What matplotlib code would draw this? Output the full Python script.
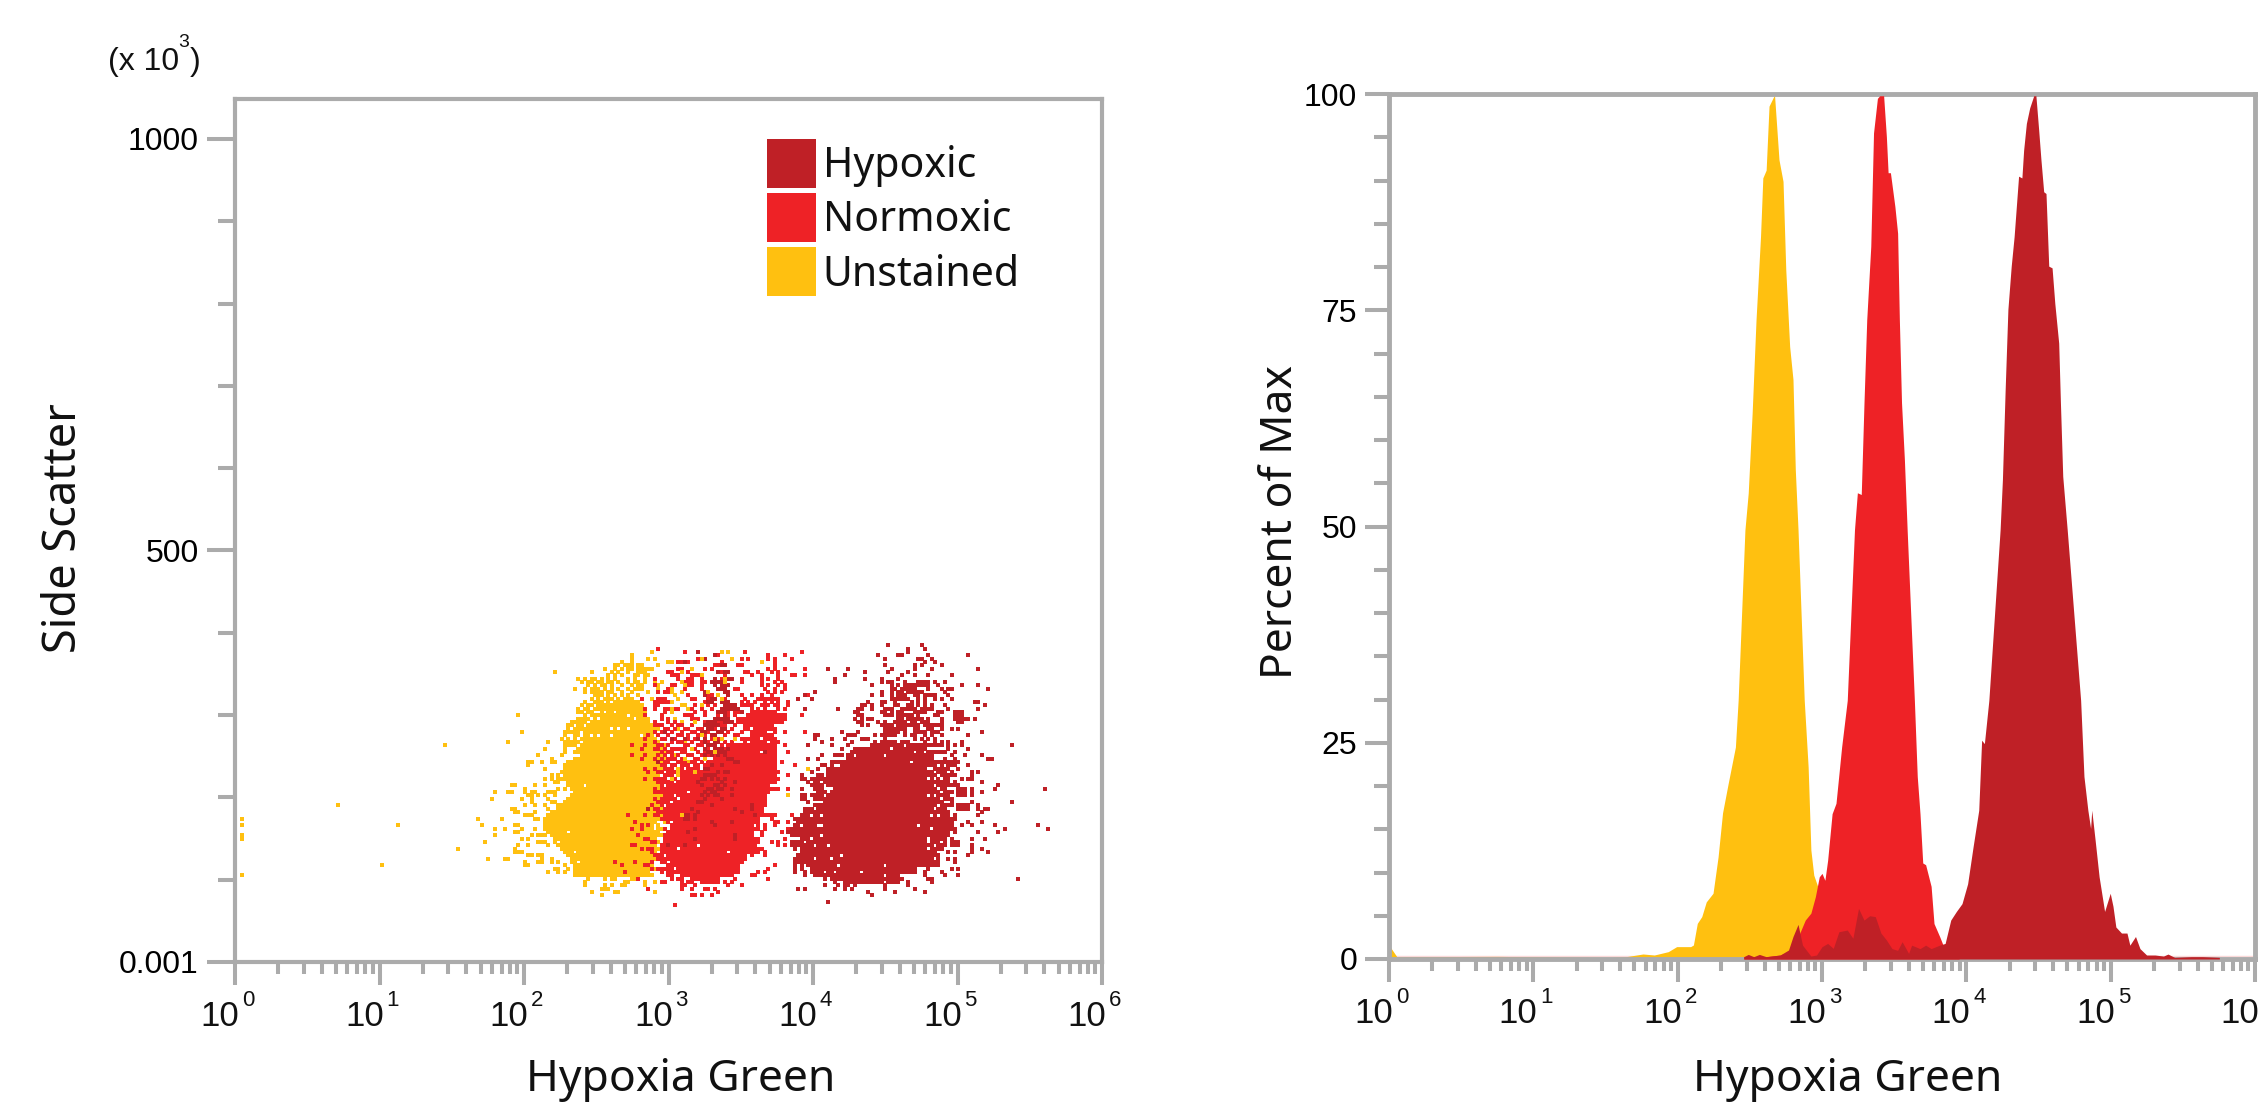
import numpy as np
import matplotlib
matplotlib.use("Agg")
import matplotlib.pyplot as plt
from matplotlib.patches import Patch
from matplotlib.ticker import LogLocator, NullFormatter, FixedLocator

W, H = 2258, 1105
GREY = "#ABABAB"
YELLOW = "#FFC010"
RED = "#EE2226"
DARK = "#BF2026"
TICK_FONT = ["Liberation Sans Narrow", "Liberation Sans"]
TITLE_FONT = "Noto Sans"

# histogram outlines, log10(intensity) and percent of max
unstained_exp = [0.0, 0.054, 0.75, 1.527, 1.644, 1.76, 1.838, 1.935, 1.993, 2.09, 2.109, 2.136, 2.167, 2.198, 2.245, 2.28,
                 2.311, 2.35, 2.4, 2.419, 2.466, 2.489, 2.516, 2.543, 2.574, 2.59, 2.613, 2.633, 2.671, 2.683, 2.702,
                 2.73, 2.749, 2.776, 2.799, 2.815, 2.834, 2.877, 2.904, 2.923, 2.943, 2.97, 3.0, 3.08, 3.195]
unstained_pct = [1.6, 0.27, 0.3, 0.19, 0.27, 0.58, 0.46, 0.85, 1.43, 1.43, 1.62, 4.12, 4.9, 6.6, 7.6, 11.8,
                 16.9, 20.3, 24.5, 29.9, 49.6, 53.9, 63.1, 73.9, 83.5, 90.3, 91.2, 98.6, 99.9, 97, 92.4,
                 89.9, 79.7, 70.8, 67, 56.6, 49.6, 29.9, 22.2, 12.6, 9.7, 8.4, 5.3, 1.4, 0.27]
normoxic_exp = [2.458, 2.613, 2.71, 2.768, 2.826, 2.884, 2.923, 2.954, 2.981, 3.0, 3.02, 3.039, 3.07, 3.097, 3.136, 3.175,
                3.225, 3.245, 3.272, 3.291, 3.31, 3.338, 3.357, 3.384, 3.4, 3.427, 3.446, 3.458, 3.474, 3.505, 3.524,
                3.536, 3.551, 3.571, 3.59, 3.64, 3.66, 3.679, 3.698, 3.718, 3.756, 3.776, 3.815, 3.834, 3.873, 3.95]
normoxic_pct = [0.27, 0.27, 0.46, 0.84, 2.2, 4.5, 5.3, 7.2, 9.5, 9.9, 9.1, 11.4, 16.8, 18, 24.5, 29.9,
                49.6, 53.9, 53.7, 64.3, 73.9, 82.4, 95.5, 99.5, 99.8, 99.8, 95.1, 90.9, 90.9, 87, 83.9,
                73.9, 64.3, 57.7, 49.6, 29.9, 21.1, 16.8, 11.1, 10.9, 8.4, 4.1, 2.6, 1.8, 0.27, 0.1]
hypoxic_exp = [2.458, 2.489, 2.527, 2.566, 2.613, 2.71, 2.768, 2.799, 2.834, 2.865, 2.923, 2.962, 3.0, 3.039, 3.078, 3.117,
               3.175, 3.214, 3.253, 3.291, 3.33, 3.369, 3.408, 3.446, 3.485, 3.524, 3.555, 3.6, 3.621, 3.679, 3.718,
               3.756, 3.815, 3.853, 3.892, 3.931, 3.97, 4.009, 4.047, 4.086, 4.106, 4.125, 4.156, 4.234, 4.25, 4.269,
               4.288, 4.311, 4.331, 4.362, 4.385, 4.397, 4.416, 4.439, 4.467, 4.482, 4.501, 4.517, 4.536, 4.552, 4.571,
               4.594, 4.613, 4.64, 4.652, 4.668, 4.699, 4.792, 4.815, 4.842, 4.861, 4.869, 4.892, 4.92, 4.958, 4.997,
               5.016, 5.036, 5.075, 5.113, 5.133, 5.172, 5.203, 5.249, 5.308, 5.366, 5.397, 5.443, 5.559, 5.637, 5.753]
hypoxic_pct = [0.27, 0.53, 0.27, 0.53, 0.27, 0.46, 1.04, 2.6, 4.0, 1.6, 0.34, 0.46, 1.42, 1.8, 1.23, 3.15,
               3.35, 2.4, 5.85, 4.5, 5, 4.9, 3, 2.2, 1.2, 1, 2, 0.65, 1.6, 1.2, 1.6,
               1.2, 1.6, 1.8, 4.5, 5.5, 6.4, 8.7, 13, 17.2, 25.3, 24.9, 29.9, 49.6, 55.4, 65.8,
               75.1, 80.1, 83.5, 90.5, 90.3, 93.5, 96.6, 98.4, 99.8, 99.8, 95.9, 92.4, 88.7, 88.5, 80.1,
               79.9, 75.8, 71.2, 64.3, 55.8, 49.6, 29.9, 21.1, 17.2, 15.1, 17.2, 13.8, 9.5, 5.5, 7.6,
               6.1, 3.7, 3, 3, 1.6, 2.6, 1.2, 0.46, 0.46, 0.34, 0.57, 0.19, 0.27, 0.27, 0.19]

# scatter plot is a binned raster: column = log10(x) bin, row = side scatter bin
BINS_PER_DECADE = 43.35
SSC_PER_BIN = 4.05

yellow_body_row = list(range(79, 25, -1))
yellow_body_start = [117, 115, 113, 113, 112, 111, 110, 107, 106, 105, 105, 105, 104, 105, 104, 103, 102, 103, 102, 100,
                     99, 99, 99, 99, 99, 100, 100, 101, 102, 101, 100, 99, 97, 97, 96, 95, 93, 93, 93, 93,
                     94, 95, 96, 96, 97, 98, 99, 100, 101, 101, 102, 102, 102, 102]
yellow_body_end = [119, 121, 122, 122, 123, 123, 124, 124, 125, 125, 125, 123, 124, 123, 125, 125, 125, 125, 125, 124,
                   125, 125, 126, 125, 126, 126, 126, 127, 127, 127, 128, 127, 127, 127, 127, 126, 125, 124, 124, 123,
                   124, 124, 124, 124, 124, 125, 125, 125, 124, 123, 123, 122, 121, 120]
yellow_hole_col = [105, 100, 97, 102, 103, 118, 114, 120, 115, 113, 118, 113, 109, 107, 122, 103, 101, 100]
yellow_hole_row = [53, 39, 36, 33, 30, 74, 75, 73, 70, 70, 70, 68, 68, 68, 68, 62, 62, 61]
yellow_cells = {
    93: [125], 92: [119], 91: [124, 126, 119], 90: [130, 116, 119], 89: [114, 115, 117, 118, 121, 122, 127, 119],
    88: [111, 114, 116, 118, 119, 121, 122, 123, 124, 125], 87: [96, 113, 115, 118, 121, 122, 123, 107],
    86: [112, 114, 116, 120, 121, 123, 124], 85: [103, 105, 112, 114, 118, 120, 123],
    84: [104, 112, 113, 115, 118, 120, 121, 123, 126, 128], 83: [113, 116, 119, 121, 122, 127],
    82: [102, 107, 108, 109, 115, 118, 120, 121, 122, 127, 131], 81: [109, 112, 113, 116, 119, 124, 131, 134],
    80: [112, 114, 116, 118, 121, 132], 79: [113, 125, 127], 78: [108, 109, 110, 112, 128, 131],
    77: [104, 110, 111, 134], 76: [103, 105, 110, 130, 136], 75: [103, 131], 74: [85, 109, 110, 111],
    73: [105, 132], 72: [102, 103, 104, 105, 126, 134], 71: [103], 70: [102, 103, 127, 133], 69: [86, 99, 100, 101],
    68: [99], 67: [98, 104, 106], 66: [94, 99, 102, 103, 135], 65: [99, 102, 128], 64: [93, 99, 103, 131],
    63: [99, 134], 62: [91, 98, 132], 61: [95, 132], 60: [88, 89, 92, 95, 96, 130, 136], 59: [88],
    58: [93, 128, 133], 57: [98], 56: [95, 97], 55: [93, 95, 97, 98, 129], 54: [96, 97], 53: [83, 90, 93],
    52: [87, 97, 99, 128, 130, 136], 51: [82, 87, 89, 90, 94, 95, 96, 134], 50: [88, 89, 91, 93, 96],
    49: [86, 89, 94, 130], 48: [89, 95, 96, 129], 47: [87, 90, 93], 46: [83, 94, 131], 45: [84, 90, 95],
    44: [87, 88, 89, 94, 129], 43: [90, 91, 127], 42: [129], 41: [84], 40: [81, 86, 90, 127, 131, 128], 39: [84],
    38: [89, 91, 92, 93, 125, 128], 37: [86, 88], 36: [91, 92, 93], 35: [85, 88, 94, 126], 34: [84],
    33: [84, 85, 86, 128], 32: [88, 89, 91, 92], 31: [81, 92, 95], 30: [87, 91, 92, 95, 97, 125], 29: [87, 88, 99],
    28: [96, 97, 100, 126], 27: [94, 97, 99, 105], 26: [107, 123, 124], 25: [106, 111, 113, 114, 119, 120],
    24: [105, 117, 118, 123, 126], 23: [105, 111, 113, 116, 117, 123], 22: [110, 111, 112], 21: [107, 114, 115, 126],
    20: [110],
}
yellow_extra = {
    85: [107, 108, 110], 84: [106, 107, 109, 110], 83: [106, 108, 110, 111], 82: [105, 111, 113], 81: [105, 107, 108, 110],
    80: [108, 109, 110], 79: [107, 109, 111, 112, 115], 78: [105, 114, 115], 77: [106, 107, 109, 112], 76: [106, 108, 109, 111, 112],
    75: [104, 106, 107, 110], 74: [105, 107, 108], 73: [103, 104, 106, 108], 72: [101], 71: [100, 101, 104], 70: [100, 104, 126, 127],
    69: [102, 103, 126, 128], 68: [102, 103, 124, 125, 127], 67: [100, 102, 125, 126, 128], 66: [100, 101, 124, 125, 127],
    65: [100, 101, 126, 127, 129], 64: [126, 128], 63: [126, 127, 129], 62: [126, 128], 61: [126, 127, 129], 60: [125, 126, 128],
    59: [126, 127], 58: [126, 127, 129], 57: [127, 128, 130], 56: [126, 127, 129], 55: [127, 128], 54: [127, 129], 53: [127, 128, 130],
    52: [128, 129], 51: [128, 130], 50: [128, 129], 49: [129, 131], 48: [128, 129], 47: [128, 130], 46: [128, 129], 45: [128],
    44: [127, 128], 43: [126, 128], 42: [125, 126], 41: [125, 127], 40: [124, 125], 39: [125, 126, 127], 38: [126, 127], 37: [125, 126],
    36: [125, 127], 35: [125], 34: [126, 127], 33: [126], 31: [125, 126], 30: [124], 29: [124, 125], 28: [123, 124], 27: [122, 123, 124],
    26: [121, 122, 125],
}
yellow_stray_col = [2, 2, 2, 2, 2, 31, 49, 44, 63, 82, 84, 78, 83, 77, 84, 85, 73, 80, 74, 85, 78, 81, 85, 78, 75, 84, 85, 67, 76, 82]
yellow_stray_row = [43, 41, 38, 37, 26, 47, 41, 29, 65, 66, 53, 51, 51, 49, 46, 45, 43, 43, 41, 41, 40, 40, 39, 38, 36, 34, 33, 34, 31, 31]
yellow_over_col = [146, 148, 140, 149, 158, 131, 137, 134, 140, 147, 147, 134, 135, 131, 142, 145, 146, 133, 140, 135, 136,
                   131, 138, 144, 146, 150, 140, 137, 144, 135, 141, 133, 133, 133, 138, 131, 166, 172, 134]
yellow_over_row = [93, 93, 91, 91, 90, 90, 88, 87, 86, 85, 84, 84, 83, 82, 81, 80, 79, 79, 77, 77, 76,
                   76, 72, 67, 67, 67, 68, 64, 63, 61, 61, 58, 57, 56, 57, 55, 50, 58, 44]

red_body_row = list(range(75, 23, -1))
red_body_start = [156, 154, 152, 151, 153, 153, 155, 155, 152, 153, 149, 147, 145, 144, 144, 143, 142, 142, 140, 139, 138,
                  138, 138, 138, 138, 138, 136, 136, 136, 135, 135, 134, 134, 132, 132, 131, 130, 129, 129, 129, 128, 128,
                  128, 130, 130, 131, 132, 133, 133, 134, 137, 140]
red_body_end = [162, 165, 165, 164, 161, 162, 162, 161, 162, 163, 162, 162, 162, 162, 162, 162, 162, 162, 163, 162, 163,
                162, 160, 163, 160, 159, 159, 159, 159, 158, 158, 160, 157, 157, 157, 157, 155, 155, 156, 156, 156, 157,
                157, 155, 153, 152, 152, 151, 151, 149, 145, 145]
red_hole_col = [139, 133, 148, 154, 152, 155, 158, 161, 160, 154, 160, 158, 156, 155]
red_hole_row = [35, 34, 33, 32, 29, 70, 67, 69, 69, 66, 66, 63, 41, 46]
red_cells = {
    94: [127], 93: [135, 153, 170], 92: [144, 145, 160, 165], 91: [139, 152, 154, 160, 162, 167], 90: [133, 134, 136, 146, 162],
    89: [144, 145, 151, 152, 162], 88: [133, 134, 141, 143, 160, 162, 165, 171], 87: [130, 131, 134, 136, 146, 153, 154, 157, 161, 163],
    86: [131, 132, 133, 137, 138, 139, 147, 155, 158, 163, 167, 168, 171], 85: [126, 133, 136, 137, 140, 146, 152, 158, 160, 163],
    84: [134, 135, 136, 137, 140, 141, 152, 158, 162, 164], 83: [126, 131, 132, 135, 136, 137, 140, 158, 160, 163, 165],
    82: [130, 135, 140, 150, 151, 159, 162, 165], 81: [127, 129, 130, 142, 160, 162, 164], 80: [136, 142, 143, 152, 155, 158, 161, 172],
    79: [122, 127, 128, 129, 137, 138, 142, 147, 153, 157, 158, 159, 160, 161, 162, 163, 169],
    78: [126, 127, 128, 129, 130, 141, 152, 154, 156, 159, 161, 163, 166],
    77: [126, 127, 135, 138, 142, 144, 150, 152, 153, 154, 155, 158, 159, 160, 162, 163, 166],
    76: [123, 126, 129, 130, 132, 133, 136, 137, 140, 143, 155, 157, 159, 163, 165, 171], 75: [129, 138, 141, 148, 150, 151, 155],
    74: [123, 128, 135, 136, 137, 141, 145, 148, 150, 170], 73: [128, 130, 137, 138, 139, 151, 152], 72: [126, 130, 132, 141, 143, 145, 146, 148],
    71: [126, 127, 128, 131, 133, 134, 137, 142, 146, 147, 150], 70: [129, 130, 132, 135, 136, 139, 140, 144, 149],
    69: [126, 128, 131, 134, 137, 138, 142, 148, 152, 165, 171], 68: [124, 127, 130, 133, 134, 136, 139, 141, 147, 150, 151],
    67: [123, 128, 129, 132, 135, 136, 138, 143, 145, 150], 66: [126, 131, 133, 134, 137, 140, 142, 147, 149],
    65: [119, 123, 127, 128, 130, 135, 136, 139, 140, 146, 148, 165], 64: [122, 126, 127, 129, 131, 132, 133, 134, 135, 137, 138, 142, 147],
    63: [128, 130, 131, 134, 135, 139, 141, 143, 166], 62: [119, 123, 127, 129, 131, 133, 136, 137, 140, 142],
    61: [122, 126, 128, 130, 131, 132, 134, 135, 138, 139, 141], 60: [127, 129, 130, 133, 134, 137, 140, 164], 59: [128, 131, 132, 135, 136, 139, 168],
    58: [123, 126, 129, 130, 133, 134, 137, 138, 141], 57: [124, 127, 128, 130, 131, 132, 135, 136, 139], 56: [129, 130, 133, 134, 137, 138, 166],
    55: [123, 126, 127, 128, 131, 132, 135, 136], 54: [127, 128, 129, 130, 133, 134, 137], 53: [128, 130, 131, 132, 135, 136],
    52: [126, 128, 129, 130, 132, 133, 134, 136, 137, 166], 51: [126, 127, 128, 130, 131, 132, 135], 50: [129, 130, 133, 134, 137], 49: [126, 128, 131, 132, 135],
    48: [127, 128, 129, 130, 133, 134], 47: [125, 128, 130, 131, 132, 135], 46: [126, 127, 129, 130, 133, 134], 45: [127, 128, 130, 131, 132],
    44: [118, 123, 126, 127, 131, 133, 161, 162, 167], 43: [128, 129, 132, 161, 169], 42: [120, 130, 162, 163, 166], 41: [122, 124, 131, 159, 162],
    40: [119, 122, 129, 159, 166], 39: [158, 164], 38: [121, 158], 37: [123, 124, 157, 165], 36: [125, 126, 157, 161, 163], 35: [119, 120, 163, 165],
    34: [122, 124, 125, 158], 33: [125, 159], 32: [126, 127, 128, 159], 31: [127, 128, 129], 30: [114, 120, 125, 128, 129], 29: [116, 123, 124, 130, 131, 162],
    28: [125, 127, 128, 129, 130, 131, 160], 27: [117, 128, 130, 131, 132, 157, 159], 26: [130, 131, 155, 156], 25: [121, 131, 133, 134, 150, 160],
    24: [128, 129, 134, 136, 137, 147, 149], 23: [134, 135, 138, 148, 152], 22: [124, 134, 137, 141, 142, 144], 21: [145], 20: [137, 138, 140, 143], 17: [132],
}
red_extra = {
    60: [135, 138, 142], 59: [129, 134, 138, 141], 58: [131, 136, 139], 57: [133, 134, 137], 56: [131, 135, 136, 139], 55: [129, 134, 137],
    54: [131, 135, 136], 53: [133, 134, 137], 52: [131, 135], 51: [129, 133, 134, 137], 50: [131, 135, 136], 49: [129, 130, 134, 136],
    48: [132, 135], 47: [133, 134], 46: [131, 132, 135], 45: [129, 133, 134], 44: [129, 130, 132], 43: [130, 131, 133],
}

dark_body_row = list(range(66, 23, -1))
dark_body_start = [192, 191, 187, 185, 184, 184, 179, 179, 178, 178, 178, 177, 177, 178, 180, 179, 178, 177, 177, 176, 175,
                   175, 174, 173, 173, 177, 172, 170, 170, 174, 175, 172, 172, 173, 173, 174, 174, 175, 176, 178, 180, 181, 185]
dark_body_end = [202, 212, 207, 212, 209, 209, 209, 208, 208, 208, 208, 208, 208, 208, 208, 208, 208, 212, 212, 212, 210,
                 212, 209, 214, 209, 213, 213, 210, 209, 209, 205, 207, 206, 206, 206, 207, 208, 207, 204, 204, 199, 200, 191]
dark_hole_col = [195, 208, 208, 210, 210, 212, 208, 210, 209, 205, 208, 176, 178, 174, 182, 179, 174, 181, 195, 188, 195, 180,
                 176, 173, 193, 199, 201, 197, 186, 186, 204, 207, 203, 212, 211, 209, 206, 181, 180]
dark_hole_row = [62, 58, 55, 57, 55, 55, 50, 46, 44, 41, 37, 38, 35, 35, 32, 31, 31, 29, 29, 27, 26, 27,
                 44, 41, 66, 66, 65, 64, 64, 62, 63, 63, 60, 49, 47, 40, 36, 59, 59]
dark_cells = {
    95: [196, 206], 94: [207, 202], 93: [202, 139], 92: [193, 199, 200, 208, 220, 144], 91: [195, 205, 206, 209, 140, 141], 90: [207, 210, 135],
    89: [195, 204, 206, 212, 146, 147], 88: [197, 204, 209, 223, 178, 184], 87: [196, 202, 189, 145, 147, 148], 86: [204, 200, 208, 215, 183],
    85: [189, 194, 199, 180, 144, 148, 149], 84: [194, 196, 197, 201, 205, 206, 207, 208, 210, 213, 180, 143, 144, 145, 146, 147],
    83: [191, 197, 199, 201, 202, 203, 204, 205, 206, 207, 208, 211, 218, 223, 144, 146, 147, 148],
    82: [197, 198, 200, 201, 202, 203, 204, 208, 212, 214, 215, 145, 146, 147], 81: [194, 197, 199, 200, 202, 203, 204, 205, 206, 213, 174, 141, 147, 148],
    80: [191, 194, 197, 199, 200, 201, 204, 205, 207, 208, 209, 210, 214, 171, 141, 148], 79: [197, 198, 199, 200, 201, 202, 205, 207, 210, 212, 215, 169, 173, 143, 144],
    78: [190, 194, 195, 198, 203, 205, 207, 223, 142, 143, 146, 147, 148], 77: [188, 189, 191, 194, 198, 199, 202, 203, 205, 207, 209, 213, 147, 148, 149, 150],
    76: [187, 188, 191, 195, 196, 197, 200, 201, 202, 203, 204, 206, 207, 208, 209, 214, 223, 181, 171, 146, 147, 148, 149, 150, 151],
    75: [186, 187, 194, 195, 197, 199, 200, 204, 205, 206, 207, 211, 212, 216, 217, 218, 145, 146, 147, 152],
    74: [187, 188, 195, 196, 197, 199, 200, 201, 202, 203, 205, 210, 211, 216, 217, 218, 147],
    73: [186, 188, 190, 191, 199, 200, 202, 203, 204, 205, 206, 208, 212, 216, 217, 218, 219, 220, 222, 144, 145, 146, 147, 148],
    72: [187, 188, 193, 195, 198, 199, 200, 201, 203, 204, 206, 207, 208, 212, 217, 218, 142, 143, 144, 147, 148, 149],
    71: [188, 190, 194, 195, 196, 197, 199, 200, 201, 202, 203, 204, 205, 207, 208, 209, 210, 211, 212, 141, 142, 143, 144, 145],
    70: [195, 196, 197, 198, 199, 200, 201, 204, 205, 208, 209, 212, 215, 217, 142, 143, 146, 147],
    69: [182, 187, 195, 196, 197, 198, 199, 201, 204, 205, 206, 207, 209, 210, 211, 129, 140, 141, 145, 146],
    68: [174, 175, 184, 185, 186, 192, 194, 195, 196, 197, 198, 201, 203, 204, 207, 209, 212, 220, 143, 144],
    67: [174, 179, 183, 188, 189, 190, 195, 204, 206, 208, 210, 131, 135, 139, 141],
    66: [176, 185, 207, 210, 212, 214, 218, 141, 144, 145], 65: [172, 179, 184, 214, 216, 218, 142, 143, 144],
    64: [182, 186, 214, 220, 141, 144, 145, 146, 148], 63: [142, 143, 144, 145, 146, 147, 159, 213, 216],
    62: [176, 180, 181, 182, 215, 219, 141, 143, 145, 147], 61: [172, 175, 213, 216, 148, 149], 60: [214, 215, 216, 217, 127, 150, 151],
    59: [220, 212, 143, 146], 58: [175, 217, 141, 142, 213], 57: [173, 221, 223, 145, 147, 148, 215], 56: [170, 175, 176, 221, 141, 142, 143, 144, 213, 216],
    55: [170, 171, 175, 176, 218, 220, 221, 140, 141, 143, 145, 147], 54: [139, 146, 150, 212, 216], 53: [173, 174, 175, 176, 213, 214, 215, 216, 217, 140, 144, 145, 147],
    52: [170, 174, 175, 176, 217, 218, 219, 221, 142, 143, 145, 146, 149], 51: [217, 218, 219, 221, 141, 143, 144], 50: [170, 171, 174, 175, 176, 217, 218, 219, 221, 140, 142, 144, 145, 149, 214],
    49: [170, 171, 174, 175, 176, 215, 141, 146], 48: [172, 215, 221, 139, 140], 47: [215, 217, 218, 219, 220, 223, 143, 155], 46: [171, 173, 217, 218, 219, 220, 223, 124, 137, 150, 155],
    45: [171, 176, 139, 152, 214], 44: [216, 223, 135, 136, 138, 156], 43: [168, 169, 135, 136, 138, 216], 42: [169, 170, 220, 143, 149, 215], 41: [168, 169, 218, 221, 144],
    40: [167, 138, 214], 39: [216, 223, 136, 168, 169], 38: [150, 212], 37: [221, 138, 150, 213], 36: [167, 168, 169, 170, 215, 216, 217], 35: [167, 168, 169, 170, 171, 215, 216, 217, 221, 130, 135],
    34: [211, 212, 221], 33: [210, 214, 216, 221], 32: [220, 209, 210], 31: [168, 169, 170, 171, 214, 216, 211], 30: [168, 169, 170, 171, 216, 210, 211], 29: [168, 211],
    28: [168, 215, 217, 208], 27: [168, 171, 212, 207], 26: [171, 174, 213, 217, 207], 25: [209, 208], 24: [186, 189, 190, 192, 202, 209], 23: [177, 181, 186, 195, 202],
    22: [169, 171, 180, 183, 185, 195, 204], 21: [190, 198, 207], 20: [191], 18: [178],
}
dark_extra = {
    92: [220], 88: [223], 83: [223], 82: [226], 78: [222], 77: [225], 69: [224], 65: [233], 62: [224], 61: [226, 227],
    60: [210, 211, 212, 213], 59: [176, 177, 209, 210, 214, 215, 216], 58: [210, 211, 212, 214], 57: [209, 211, 212, 213],
    56: [209, 210, 212, 214, 215], 55: [173, 174, 209, 211, 213, 214], 54: [172, 174, 175, 209, 210, 211, 213, 214, 224], 53: [209, 211, 212, 229],
    52: [209, 210, 212, 213, 228, 243], 51: [175, 176, 177, 209, 210, 211, 213, 214, 215, 224], 50: [173, 209, 211, 212, 213], 49: [213, 214],
    48: [233], 47: [174, 175, 213, 214], 46: [172, 173, 211, 212, 213, 225, 226], 45: [172, 173, 174, 213, 224], 44: [170, 171, 172, 210, 212, 213, 214],
    43: [170, 171, 172, 215], 42: [171, 172, 210, 211, 212, 213, 214, 224], 41: [171, 172, 173, 174, 214, 215, 228, 241], 40: [168, 169, 170, 171, 214, 215, 216, 231, 244],
    39: [166, 167, 211, 212, 213, 214, 229], 38: [167, 168, 169, 210, 211, 213, 214], 37: [170, 171, 172, 210, 211, 212, 215, 225], 36: [172, 173, 174, 206, 207, 209, 210, 211, 213],
    35: [208, 209, 211, 212, 213], 34: [168, 170, 171, 207, 209, 210, 224], 33: [170, 171, 172, 207, 208, 209, 226], 32: [169, 170, 171, 172, 207, 208, 211],
    31: [172, 173, 208, 209], 30: [172, 173, 209], 29: [170, 172, 173, 174, 208, 209, 210], 28: [170, 173, 174, 175], 27: [173, 174, 175, 176],
    26: [175, 176, 177, 178, 179], 25: [177, 179, 180, 235], 24: [180, 183, 184, 193, 194, 196, 197, 198, 199], 23: [183, 184],
}


def span_cells(rows, starts, ends, hole_cols, hole_rows):
    holes = set(zip(hole_cols, hole_rows))
    cols, out_rows = [], []
    for r, a, b in zip(rows, starts, ends):
        for c in range(a, b + 1):
            if (c, r) not in holes:
                cols.append(c)
                out_rows.append(r)
    return cols, out_rows


def dict_cells(cells):
    cols, rows = [], []
    for r, cs in cells.items():
        cols.extend(cs)
        rows.extend([r] * len(cs))
    return cols, rows


def draw_cells(ax, cols, rows, color):
    x = 10 ** (np.array(cols, dtype=float) / BINS_PER_DECADE)
    y = np.array(rows, dtype=float) * SSC_PER_BIN
    ax.scatter(x, y, s=6.2, marker="s", color=color, linewidths=0, zorder=2, clip_on=False)


def style_axes(ax, major_len, minor_len, spine_width):
    for side in ax.spines:
        ax.spines[side].set_color(GREY)
        ax.spines[side].set_linewidth(spine_width)
    ax.set_xscale("log")
    ax.set_xlim(1, 1e6)
    ax.xaxis.set_major_locator(LogLocator(base=10, numticks=8))
    ax.xaxis.set_minor_locator(LogLocator(base=10, subs=np.arange(2, 10), numticks=10))
    ax.xaxis.set_major_formatter(NullFormatter())
    ax.xaxis.set_minor_formatter(NullFormatter())
    ax.tick_params(axis="x", which="major", length=16.5, width=2.9, color=GREY)
    ax.tick_params(axis="x", which="minor", length=8.6, width=2.9, color=GREY)
    ax.tick_params(axis="y", which="major", length=major_len, width=2.9, color=GREY, pad=6)
    ax.tick_params(axis="y", which="minor", length=minor_len, width=2.9, color=GREY)


def decade_labels(ax, last_sup=True):
    for k in range(7):
        ax.annotate("10", xy=(10.0 ** k, 0), xycoords=("data", "axes fraction"), xytext=(3, -46),
                    textcoords="offset points", ha="right", va="baseline", fontsize=25, family=TICK_FONT, annotation_clip=False)
        if k < 6 or last_sup:
            ax.annotate(str(k), xy=(10.0 ** k, 0), xycoords=("data", "axes fraction"), xytext=(5, -32),
                        textcoords="offset points", ha="left", va="baseline", fontsize=16, family=TICK_FONT, annotation_clip=False)


plt.rcParams["text.color"] = "#111111"
fig = plt.figure(figsize=(W / 100, H / 100), dpi=100)

# left panel
ax1 = fig.add_axes([235 / W, 1 - 962 / H, (1102 - 235) / W, (962 - 99) / H])
style_axes(ax1, 20, 12, 3.0)
ax1.set_ylim(0, 1048.6)
ax1.yaxis.set_major_locator(FixedLocator([0.001, 500, 1000]))
ax1.yaxis.set_minor_locator(FixedLocator([100, 200, 300, 400, 600, 700, 800, 900]))
ax1.set_yticklabels(["0.001", "500", "1000"], fontsize=23, family=TICK_FONT)

draw_cells(ax1, *span_cells(yellow_body_row, yellow_body_start, yellow_body_end, yellow_hole_col, yellow_hole_row), YELLOW)
draw_cells(ax1, *dict_cells(yellow_cells), YELLOW)
draw_cells(ax1, *dict_cells(yellow_extra), YELLOW)
draw_cells(ax1, yellow_stray_col, yellow_stray_row, YELLOW)
draw_cells(ax1, *span_cells(red_body_row, red_body_start, red_body_end, red_hole_col, red_hole_row), RED)
draw_cells(ax1, *dict_cells(red_cells), RED)
draw_cells(ax1, *dict_cells(red_extra), RED)
draw_cells(ax1, *span_cells(dark_body_row, dark_body_start, dark_body_end, dark_hole_col, dark_hole_row), DARK)
draw_cells(ax1, *dict_cells(dark_cells), DARK)
draw_cells(ax1, *dict_cells(dark_extra), DARK)
draw_cells(ax1, yellow_over_col, yellow_over_row, YELLOW)
decade_labels(ax1)

legend_names = ["Hypoxic", "Normoxic", "Unstained"]
legend_colors = [DARK, RED, YELLOW]
handles = [Patch(facecolor=c, edgecolor="none") for c in legend_colors]
ax1.legend(handles, legend_names, loc="upper left", bbox_to_anchor=(767 / W, 1 - 139 / H), bbox_transform=fig.transFigure,
           frameon=False, borderpad=0, borderaxespad=0, handlelength=1.2, handleheight=1.46,
           labelspacing=0.13, handletextpad=0.16, prop={"family": TITLE_FONT, "size": 29.5})

fig.text(108 / W, 1 - 70 / H, "(x 10", fontsize=23, family=TICK_FONT, ha="left", va="baseline")
fig.text(178 / W, 1 - 47 / H, "3", fontsize=14, family=TICK_FONT, ha="left", va="baseline")
fig.text(190 / W, 1 - 70 / H, ")", fontsize=23, family=TICK_FONT, ha="left", va="baseline")
fig.text(64 / W, 1 - 528 / H, "Side Scatter", rotation=90, fontsize=32.5, family=TITLE_FONT, ha="center", va="center")
fig.text(681 / W, 1 - 1091 / H, "Hypoxia Green", fontsize=32, family=TITLE_FONT, ha="center", va="baseline")

# right panel
ax2 = fig.add_axes([1389 / W, 1 - 959 / H, (2255 - 1389) / W, (959 - 94) / H])
style_axes(ax2, 17, 11, 3.5)
ax2.set_ylim(0, 100)
ax2.yaxis.set_major_locator(FixedLocator([0, 25, 50, 75, 100]))
ax2.yaxis.set_minor_locator(FixedLocator([v for v in range(5, 100, 5) if v % 25]))
ax2.set_yticklabels(["0", "25", "50", "75", "100"], fontsize=23, family=TICK_FONT)

ax2.axhline(0.35, color="#FAD9D9", lw=1, zorder=1)
ax2.fill_between(10 ** np.array(unstained_exp), 0, unstained_pct, color=YELLOW, lw=0, zorder=2)
ax2.fill_between(10 ** np.array(normoxic_exp), 0, normoxic_pct, color=RED, lw=0, zorder=3)
ax2.fill_between(10 ** np.array(hypoxic_exp), 0, hypoxic_pct, color=DARK, lw=0, zorder=4)
decade_labels(ax2, last_sup=False)

fig.text(1281 / W, 1 - 522 / H, "Percent of Max", rotation=90, fontsize=32, family=TITLE_FONT, ha="center", va="center")
fig.text(1848 / W, 1 - 1091 / H, "Hypoxia Green", fontsize=32, family=TITLE_FONT, ha="center", va="baseline")

fig.savefig("out.png", dpi=100)
